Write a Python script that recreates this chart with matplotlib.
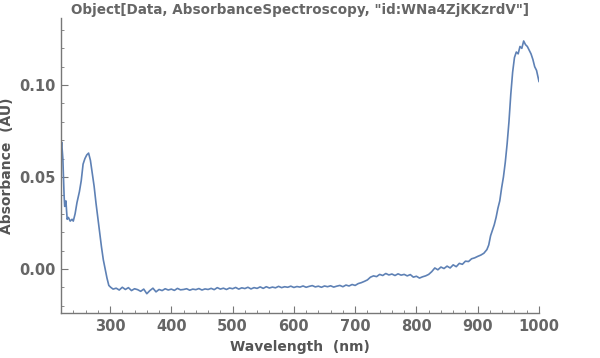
import numpy as np
import matplotlib
matplotlib.use("Agg")
import matplotlib.pyplot as plt
from matplotlib.ticker import MultipleLocator

# wavelength (nm) and absorbance (AU)
wavelength = [
    220, 221, 223, 225, 226, 228, 230, 232, 235, 238, 240, 243, 246, 250, 253, 256, 259, 262, 265, 268,
    271, 274, 277, 280, 283, 286, 289, 292, 295, 298, 301,
    305, 310, 315, 320, 325, 330, 335, 340, 345, 350, 355, 360, 365, 370, 375, 380, 385, 390, 395, 400,
    405, 410, 415, 420, 425, 430, 435, 440, 445, 450, 455, 460, 465, 470, 475, 480, 485, 490, 495, 500,
    505, 510, 515, 520, 525, 530, 535, 540, 545, 550, 555, 560, 565, 570, 575, 580, 585, 590, 595, 600,
    605, 610, 615, 620, 625, 630, 635, 640, 645, 650, 655, 660, 665, 670, 675, 680, 685, 690, 695, 700,
    705, 710, 715, 720, 725, 730, 735, 740, 745, 750, 755, 760, 765, 770, 775, 780, 785, 790, 795, 800,
    805, 810, 815, 820, 825, 830, 835, 840, 845, 850, 855, 860, 865, 870, 875, 880, 885, 890, 895, 900,
    905, 910, 915, 918, 921, 924, 927, 930, 933, 936, 939, 942, 945, 948, 951, 954, 957, 960, 963, 966,
    969, 972, 975, 978, 981, 984, 987, 990, 993, 996, 998, 1000,
]
absorbance = [
    0.065, 0.069, 0.060, 0.040, 0.034, 0.037, 0.027, 0.028, 0.026, 0.027, 0.026, 0.030, 0.036, 0.042,
    0.048, 0.057, 0.060, 0.062, 0.063, 0.059, 0.052, 0.045, 0.036, 0.028, 0.020, 0.012, 0.005, 0.000,
    -0.005, -0.009, -0.010,
    -0.0110, -0.0105, -0.0115, -0.0100, -0.0112, -0.0102, -0.0118, -0.0108, -0.0113, -0.0122, -0.0110,
    -0.0135, -0.0118, -0.0105, -0.0125, -0.0112, -0.0118, -0.0108, -0.0115, -0.0110,
    -0.0117, -0.0106, -0.0114, -0.0112, -0.0108, -0.0116, -0.0110, -0.0113, -0.0107, -0.0115, -0.0109,
    -0.0112, -0.0106, -0.0113, -0.0102, -0.0110, -0.0105, -0.0112, -0.0104, -0.0108,
    -0.0101, -0.0110, -0.0103, -0.0107, -0.0100, -0.0109, -0.0102, -0.0106, -0.0098, -0.0106, -0.0097,
    -0.0104, -0.0099, -0.0103, -0.0095, -0.0102, -0.0097, -0.0100, -0.0094, -0.0101,
    -0.0096, -0.0099, -0.0093, -0.0100, -0.0095, -0.0091, -0.0098, -0.0094, -0.0100, -0.0093, -0.0097,
    -0.0092, -0.0099, -0.0094, -0.0090, -0.0097, -0.0088, -0.0093, -0.0085, -0.0090,
    -0.0080, -0.0075, -0.0068, -0.0060, -0.0045, -0.0038, -0.0042, -0.0030, -0.0036, -0.0025, -0.0033,
    -0.0028, -0.0036, -0.0027, -0.0034, -0.0030, -0.0038, -0.0031, -0.0045, -0.0040,
    -0.0050, -0.0043, -0.0038, -0.0030, -0.0015, 0.0005, -0.0005, 0.0010, 0.0002, 0.0015, 0.0005,
    0.0022, 0.0012, 0.0030, 0.0025, 0.0042, 0.0040, 0.0055, 0.0060, 0.0068,
    0.0075, 0.0085, 0.0105, 0.013, 0.018, 0.021, 0.024, 0.028, 0.033, 0.037, 0.044, 0.050, 0.058, 0.068,
    0.080, 0.095, 0.107, 0.115, 0.118, 0.117,
    0.121, 0.120, 0.124, 0.122, 0.121, 0.119, 0.117, 0.114, 0.110, 0.108, 0.105, 0.102,
]

title = 'Object[Data, AbsorbanceSpectroscopy, "id:WNa4ZjKKzrdV"]'

fig = plt.figure(figsize=(6.0, 3.58), dpi=100)
ax = fig.add_axes([0.1017, 0.1257, 0.7966, 0.824])

ax.plot(wavelength, absorbance, color="#5E81B5", lw=1.2)

ax.set_xlim(220, 1000)
ax.set_ylim(-0.024, 0.1365)
ax.xaxis.set_major_locator(MultipleLocator(100))
ax.xaxis.set_minor_locator(MultipleLocator(20))
ax.yaxis.set_major_locator(MultipleLocator(0.05))
ax.yaxis.set_minor_locator(MultipleLocator(0.01))
ax.yaxis.set_major_formatter(plt.FuncFormatter(lambda v, p: "%.2f" % v))

for s in ["top", "right"]:
    ax.spines[s].set_visible(False)
for s in ["left", "bottom"]:
    ax.spines[s].set_color("#777777")
    ax.spines[s].set_linewidth(1.0)

ax.tick_params(which="both", direction="in", color="#777777", labelcolor="#666666")
ax.tick_params(which="major", length=5, labelsize=10.5, pad=4)
ax.tick_params(which="minor", length=2.5)
for lab in ax.get_xticklabels() + ax.get_yticklabels():
    lab.set_fontweight("bold")

ax.set_xlabel("Wavelength  (nm)", fontsize=10, fontweight="bold", color="#555555", labelpad=5)
ax.set_ylabel("Absorbance  (AU)", fontsize=10, fontweight="bold", color="#555555", labelpad=4)
ax.set_title(title, fontsize=9.75, fontweight="bold", color="#666666", pad=3)

fig.savefig("out.png", dpi=100)
